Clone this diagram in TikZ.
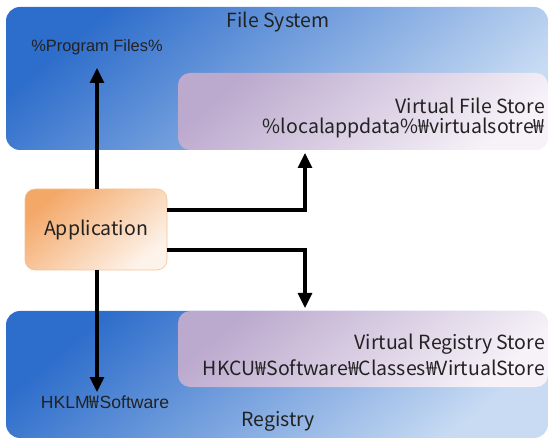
\documentclass[tikz,border=0pt]{standalone}
\usepackage{fontspec}
\setmainfont{Noto Sans CJK KR}
\newfontfamily\arialf{Liberation Sans}
\newfontfamily\krf{Noto Sans CJK KR}
\usetikzlibrary{arrows.meta}
\definecolor{bluedark}{HTML}{2D6DCB}
\definecolor{bluelight}{HTML}{C8DBF3}
\definecolor{purpdark}{HTML}{BCA9CE}
\definecolor{purplight}{HTML}{F6F2F8}
\definecolor{orgdark}{HTML}{F4A868}
\definecolor{orglight}{HTML}{FDF3EA}
\definecolor{txt}{HTML}{222222}
\tikzset{
  bigbox/.style={rectangle, rounded corners=14pt, top color=bluedark, bottom color=bluelight, shading angle=40, draw=none, inner sep=0pt},
  storebox/.style={rectangle, rounded corners=12pt, top color=purpdark, bottom color=purplight, shading angle=40, draw=none, inner sep=0pt},
  appbox/.style={rectangle, rounded corners=10pt, top color=orgdark, bottom color=orglight, shading angle=40, draw=orgdark!70, line width=0.6pt, inner sep=0pt},
  lbl/.style={text=txt, font=\fontsize{19.5}{21}\selectfont, inner sep=0pt},
  small/.style={text=txt, font=\arialf\fontsize{16.4}{18}\selectfont, inner sep=0pt},
  conn/.style={line width=3.2pt, -{Triangle[width=14pt,length=15pt]}},
}
\begin{document}
\begin{tikzpicture}[x=1pt,y=-1pt]
\useasboundingbox (0,0) rectangle (549,438);
\node[bigbox, minimum width=542pt, minimum height=143pt] (fs) at (277,78.5) {};
\node[storebox, minimum width=370pt, minimum height=77pt] (vfs) at (363,111.5) {};
\node[bigbox, minimum width=542pt, minimum height=127pt] (reg) at (277,374.5) {};
\node[storebox, minimum width=370pt, minimum height=76pt] (vrs) at (363,349) {};
\node[appbox, minimum width=142pt, minimum height=81pt] (app) at (96,229.5) {};
\node[lbl] (applbl) at (app.center) {Application};

\node[lbl] (fst) at (278,22) {File System};
\node[small] (pf) at (97,47) {\%Program Files\%};
\node[lbl, anchor=east] (vfst) at (545,106) {Virtual File Store};
\node[lbl, anchor=east] (vfsp) at (545,128) {\%localappdata\%₩virtualsotre₩};
\node[lbl, anchor=east] (vrst) at (545,344) {Virtual Registry Store};
\node[lbl, anchor=east] (vrsp) at (545,368) {HKCU₩Software₩Classes₩VirtualStore};
\node[small, font=\arialf\fontsize{17.6}{19}\selectfont] (hklm) at (105,402) {HKLM{\krf ₩}Software};
\node[lbl] (regt) at (278,421) {Registry};

\coordinate (pfend) at (97,68);
\coordinate (hkend) at (97,392);
\coordinate (a1) at (167,210);
\coordinate (b1) at (305,210);
\coordinate (vfsend) at (305,153);
\coordinate (a2) at (167,250);
\coordinate (b2) at (305,250);
\coordinate (vrsend) at (305,308);

\draw[conn] (app.north -| pfend) -- (pfend);
\draw[conn] (app.south -| hkend) -- (hkend);
\draw[conn] (a1) -- (b1) -- (vfsend);
\draw[conn] (a2) -- (b2) -- (vrsend);
\end{tikzpicture}
\end{document}
